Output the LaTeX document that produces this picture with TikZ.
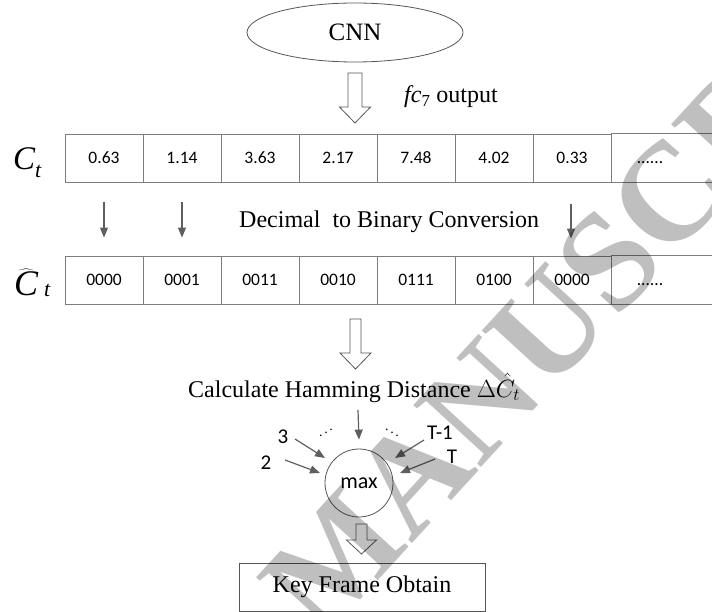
\documentclass[tikz,border=0pt]{standalone}
\usepackage{fontspec}
\setmainfont{Liberation Serif}
\newfontfamily\numfont{Carlito}
\usetikzlibrary{shapes.geometric,arrows.meta}

\definecolor{tabline}{RGB}{125,125,125}
\definecolor{edgegray}{RGB}{85,85,85}
\definecolor{arrowgray}{RGB}{95,95,95}

\begin{document}
\begin{tikzpicture}[x=1pt,y=1pt,
  serif/.style={font=\fontsize{24}{28}\selectfont},
  cellbox/.style={draw=tabline, line width=0.9pt, minimum width=78pt,
    minimum height=48pt, inner sep=0pt, text height=11pt, text depth=0pt,
    font=\numfont\fontsize{17.5}{20}\selectfont},
  plaincell/.style={cellbox, draw=none},
  tabedge/.style={draw=tabline, line width=0.9pt},
  thinarrow/.style={draw=arrowgray, line width=1.2pt,
    -{Triangle[length=10pt,width=8pt]}},
  hollowline/.style={draw=edgegray, line width=0.8pt, fill=white},
  numlabel/.style={font=\numfont\fontsize{21}{24}\selectfont, inner sep=0pt},
  dotlabel/.style={font=\fontsize{14}{14}\selectfont, inner sep=0pt},
  pics/hollowdown/.style n args={4}{code={
    \draw[hollowline] (-#2/2,0) -- (-#2/2,-#1+#4) -- (-#3/2,-#1+#4) -- (0,-#1)
      -- (#3/2,-#1+#4) -- (#2/2,-#1+#4) -- (#2/2,0) -- cycle;}}
]
\useasboundingbox (0,0) rectangle (712,-612);

% network and its output
\node[ellipse, draw=edgegray, line width=0.8pt, minimum width=216pt,
  minimum height=59pt, inner sep=0pt, font=\fontsize{25}{28}\selectfont]
  (cnn) at (355,-32.5) {CNN};
\pic at (355,-73) {hollowdown={50}{14}{31}{16}};
\node[serif, anchor=base west, inner sep=0pt] (fc) at (404,-103)
  {\itshape fc\textsubscript{\upshape 7}\upshape\ output};

% row of decimal features
\node[anchor=base west, inner sep=0pt] (ct) at (13,-170)
  {\fontsize{33}{33}\selectfont\itshape C\raisebox{-8pt}{\fontsize{22}{22}\selectfont t}};
\foreach \v [count=\i] in {0.63,1.14,3.63,2.17,7.48,4.02,0.33}
  \node[cellbox] (c\i) at ({104+78*(\i-1)},-158.3) {\v};
\node[plaincell] (c8) at (650,-158.3) {......};
\draw[tabedge] (c8.north west) -- +(101,0);
\draw[tabedge] (c8.south west) -- +(101,0);

% row of binary codes
\node[anchor=base west, inner sep=0pt] (cht) at (14,-296)
  {\fontsize{36}{36}\selectfont$\widehat{\mbox{\itshape C}}$\,\raisebox{-1pt}{\fontsize{22}{22}\selectfont\itshape t}};
\foreach \v [count=\i] in {0000,0001,0011,0010,0111,0100,0000}
  \node[cellbox] (d\i) at ({104+78*(\i-1)},-280) {\v};
\node[plaincell] (d8) at (650,-280) {......};
\draw[tabedge] (d8.north west) -- +(101,0);
\draw[tabedge] (d8.south west) -- +(101,0);

% conversion step
\draw[thinarrow] ([yshift=-19pt]c1.south) -- ([yshift=18pt]d1.north);
\draw[thinarrow] ([yshift=-19pt]c2.south) -- ([yshift=18pt]d2.north);
\draw[thinarrow] ([yshift=-21pt,xshift=-1pt]c7.south) -- ([yshift=17pt,xshift=-1pt]d7.north);
\node[serif, anchor=base west, inner sep=0pt] (conv) at (239,-228)
  {Decimal\ \ to Binary Conversion};

% Hamming distance and maximum
\pic at (355.5,-319) {hollowdown={50}{11}{31}{16}};
\node[serif, anchor=base west, inner sep=0pt] (ham) at (188,-397)
  {Calculate Hamming Distance $\Delta\hat{C}_t$};
\node[circle, draw=edgegray, line width=0.8pt, minimum size=68pt, inner sep=0pt,
  font=\numfont\fontsize{22}{24}\selectfont] (mx) at (359,-483) {max};

\node[numlabel] (l3) at (283,-437) {3};
\node[numlabel] (l2) at (266,-463) {2};
\node[numlabel] (lt1) at (440,-433) {T-1};
\node[numlabel] (lt) at (452,-457) {T};
\node[dotlabel] (dl) at (326,-430) {\reflectbox{$\ddots$}};
\node[dotlabel] (dr) at (392,-430) {$\ddots$};

\coordinate (s3) at (295,-439);  \coordinate (e3) at (325,-458);
\coordinate (s2) at (285,-460);  \coordinate (e2) at (320,-473);
\coordinate (st1) at (424,-440); \coordinate (et1) at (395,-458);
\coordinate (st) at (435,-459);  \coordinate (et) at (400,-473);
\draw[thinarrow] (s3) -- (e3);
\draw[thinarrow] (s2) -- (e2);
\draw[thinarrow] (st1) -- (et1);
\draw[thinarrow] (st) -- (et);
\draw[thinarrow] (358,-410) -- ([yshift=9pt]mx.north);

% result
\pic at (361.5,-524) {hollowdown={30}{11}{30}{14}};
\node[draw=edgegray, line width=0.8pt, minimum width=246pt, minimum height=48pt,
  inner sep=0pt, serif] (key) at (362,-587) {Key Frame Obtain};

% diagonal watermark
\begin{scope}
\clip (0,0) rectangle (712,-612);
\node[rotate=47.5, anchor=base west, inner sep=0pt, text=black, text opacity=0.25,
  font=\bfseries\fontsize{140}{140}\selectfont] (wm) at (322,-642) {MANUSCRIPT};
\end{scope}
\end{tikzpicture}
\end{document}
